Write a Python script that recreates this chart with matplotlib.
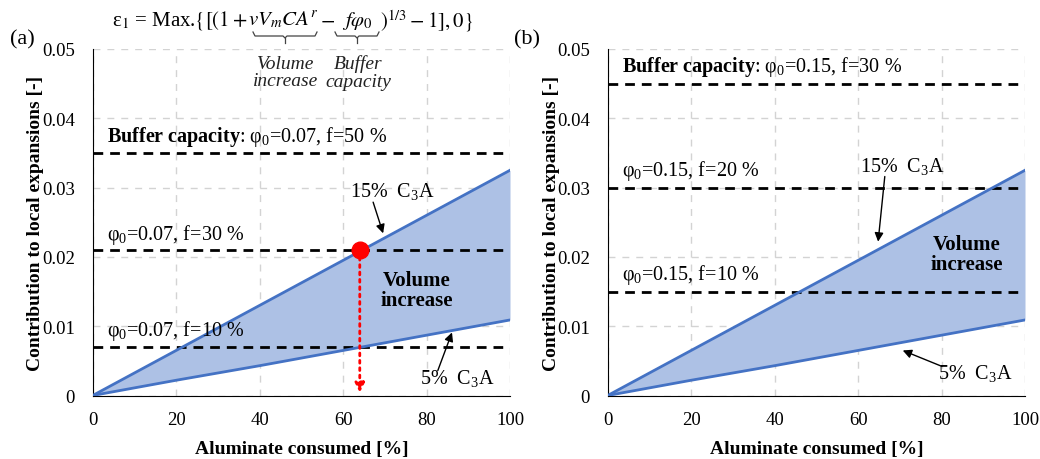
import matplotlib
matplotlib.use('Agg')
import matplotlib.pyplot as plt
from matplotlib.ticker import FuncFormatter

# Data
aluminate = [0, 20, 40, 60, 80, 100]
c3a_15 = [0, 0.0065, 0.013, 0.0195, 0.026, 0.0325]
c3a_5 = [0, 0.0022, 0.0043, 0.0065, 0.0087, 0.0109]

buffer_a = [0.035, 0.021, 0.007]
labels_a = ['$\\mathbf{Buffer\\ capacity}$: φ$_0$=0.07, f=50 %',
            'φ$_0$=0.07, f=30 %',
            'φ$_0$=0.07, f=10 %']
buffer_b = [0.045, 0.030, 0.015]
labels_b = ['$\\mathbf{Buffer\\ capacity}$: φ$_0$=0.15, f=30 %',
            'φ$_0$=0.15, f=20 %',
            'φ$_0$=0.15, f=10 %']

crit_x = 64
crit_y = 0.021

plt.rcParams['font.family'] = 'Liberation Serif'
plt.rcParams['mathtext.fontset'] = 'custom'
plt.rcParams['mathtext.rm'] = 'Liberation Serif'
plt.rcParams['mathtext.it'] = 'Liberation Serif:italic'
plt.rcParams['mathtext.bf'] = 'Liberation Serif:bold'
plt.rcParams['font.size'] = 14

W, H = 1040, 460
fig = plt.figure(figsize=(W / 100, H / 100), dpi=100)


def fx(px):
    return px / W


def fy(py):
    return 1 - py / H


line_col = '#4472c4'
fill_col = '#adc1e5'


def setup(ax, ylab_x):
    ax.set_xlim(0, 100)
    ax.set_ylim(0, 0.05)
    ax.set_xticks([0, 20, 40, 60, 80, 100])
    ax.set_yticks([0, 0.01, 0.02, 0.03, 0.04, 0.05])
    fmt = FuncFormatter(lambda v, p: '0' if v == 0 else f'{v:g}')
    ax.xaxis.set_major_formatter(fmt)
    ax.yaxis.set_major_formatter(fmt)
    ax.tick_params(length=0, labelsize=13.5)
    ax.tick_params(axis='y', pad=13)
    ax.tick_params(axis='x', pad=11)
    ax.grid(True, color='#d3d3d3', linestyle=(0, (5, 5)), lw=1)
    ax.set_axisbelow(True)
    for s in ['top', 'right']:
        ax.spines[s].set_visible(False)
    ax.set_xlabel('Aluminate consumed [%]', fontweight='bold', fontsize=14)
    ax.set_ylabel('Contribution to local expansions [-]', fontweight='bold', fontsize=14)
    ax.xaxis.set_label_coords(0.5, -0.128)
    ax.yaxis.set_label_coords(ylab_x, 0.5)
    ax.fill_between(aluminate, c3a_5, c3a_15, color=fill_col, lw=0, zorder=1)
    ax.plot(aluminate, c3a_15, color=line_col, lw=2, zorder=3)
    ax.plot(aluminate, c3a_5, color=line_col, lw=2, zorder=3)


def buffers(ax, levels, labels, ys):
    for lv, lab, ty in zip(levels, labels, ys):
        ax.axhline(lv, color='black', lw=2, linestyle=(0, (3.5, 2.5)), zorder=2)
        ax.text(3.4, ty, lab, ha='left', va='center', fontsize=14.5)


def arrow(ax, tail, tip):
    ax.annotate('', xy=tip, xytext=tail,
                arrowprops=dict(arrowstyle='-|>', color='black', lw=1,
                                shrinkA=0, shrinkB=0, mutation_scale=13))


# (a)
ax1 = fig.add_axes([fx(92.7), fy(396.5), (510 - 92.7) / W, 346.5 / H])
setup(ax1, -0.117)
buffers(ax1, buffer_a, labels_a, [0.0374, 0.0233, 0.0095])
ax1.text(77.7, 0.0152, 'Volume\nincrease', ha='center', va='center',
         fontweight='bold', fontsize=15, linespacing=1.0)
ax1.text(71.7, 0.0296, '15%  C$_3$A', ha='center', va='center', fontsize=14.5)
arrow(ax1, (67.2, 0.0279), (69.6, 0.0234))
ax1.text(87.3, 0.0026, '5%  C$_3$A', ha='center', va='center', fontsize=14.5)
arrow(ax1, (82.7, 0.0036), (86.1, 0.0091))
ax1.annotate('', xy=(crit_x, 0.0004), xytext=(crit_x, crit_y),
             arrowprops=dict(arrowstyle='-|>', color='red', lw=2,
                             linestyle=':', shrinkA=0, shrinkB=0,
                             mutation_scale=14), zorder=4)
ax1.plot([crit_x], [crit_y], 'o', color='red', markersize=12, zorder=5,
         clip_on=False)

# (b)
ax2 = fig.add_axes([fx(607.7), fy(396.5), (1025 - 607.7) / W, 346.5 / H])
setup(ax2, -0.115)
buffers(ax2, buffer_b, labels_b, [0.0475, 0.0325, 0.0175])
ax2.text(86.1, 0.0204, 'Volume\nincrease', ha='center', va='center',
         fontweight='bold', fontsize=15, linespacing=1.0)
ax2.text(70.5, 0.0332, '15%  C$_3$A', ha='center', va='center', fontsize=14.5)
arrow(ax2, (66.4, 0.0316), (64.8, 0.0222))
ax2.text(88.1, 0.0033, '5%  C$_3$A', ha='center', va='center', fontsize=14.5)
arrow(ax2, (80.1, 0.0042), (70.7, 0.0065))

# panel letters
fig.text(fx(22), fy(40), '(a)', ha='center', va='center', fontsize=16)
fig.text(fx(527), fy(40), '(b)', ha='center', va='center', fontsize=16)

# formula, placed piece by piece so the underbraces sit under their terms
fsz = 15
ymid = fy(21)
fig.text(fx(248), ymid, r'ε$_1$ = Max.$\{[(1+$', ha='right', va='center',
         fontsize=fsz, math_fontfamily='stix')
fig.text(fx(283), ymid, r'$vV_mCA^r$', ha='center', va='center',
         fontsize=fsz, math_fontfamily='stix')
fig.text(fx(327), ymid, r'$-$', ha='center', va='center',
         fontsize=fsz, math_fontfamily='stix')
fig.text(fx(357), ymid, r'$f\varphi_0$', ha='center', va='center',
         fontsize=fsz, math_fontfamily='stix')
fig.text(fx(380), ymid, r'$)^{1/3}-1],0\}$', ha='left', va='center',
         fontsize=fsz, math_fontfamily='stix')


def underbrace(x1, x2, y=37):
    c = (x1 + x2) / 2
    xs = [x1, x1 + 2, c - 2, c, c + 2, x2 - 2, x2]
    ys = [y - 4, y, y, y + 2, y, y, y - 4]
    fig.add_artist(plt.Line2D([fx(v) for v in xs], [fy(v) for v in ys],
                              color='#444444', lw=0.9))
    fig.add_artist(plt.Line2D([fx(c), fx(c)], [fy(y + 2), fy(y + 7)],
                              color='#444444', lw=0.9))


underbrace(253, 317)
underbrace(335, 379)
fig.text(fx(286), fy(73), 'Volume\nincrease', ha='center', va='center',
         fontstyle='italic', fontsize=14, linespacing=1.05, color='#222222')
fig.text(fx(358), fy(73), 'Buffer\ncapacity', ha='center', va='center',
         fontstyle='italic', fontsize=14, linespacing=1.05, color='#222222')

fig.savefig('out.png', dpi=100)
